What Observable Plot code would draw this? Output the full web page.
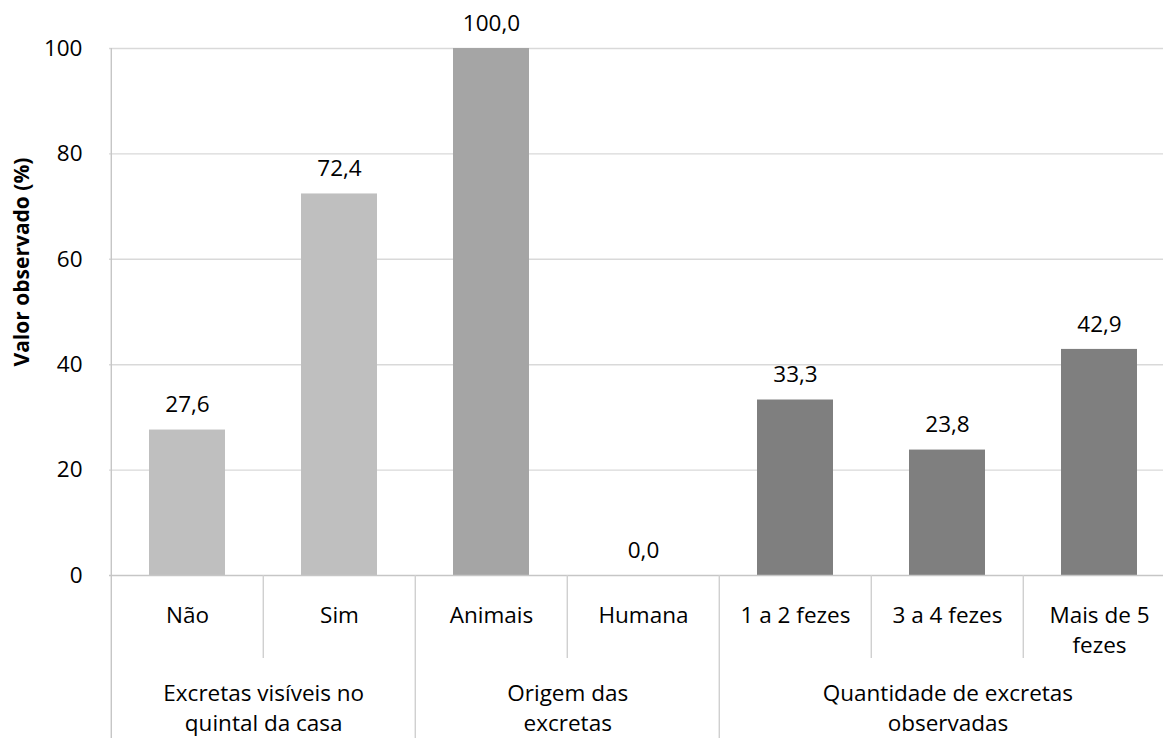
<!DOCTYPE html>
<html>
<head>
<meta charset="utf-8">
<script src="https://cdn.jsdelivr.net/npm/d3@7"></script>
<script src="https://cdn.jsdelivr.net/npm/@observablehq/plot@0.6"></script>
<style>
  html, body { margin: 0; padding: 0; background: #fff; overflow: hidden; }
  #chart svg { display: block; }
</style>
</head>
<body>
<div id="chart"></div>
<script>
// ---- data ----
const categories = ["Não", "Sim", "Animais", "Humana", "1 a 2 fezes", "3 a 4 fezes", "Mais de 5 fezes"];
const categoryLabels = ["Não", "Sim", "Animais", "Humana", "1 a 2 fezes", "3 a 4 fezes", "Mais de 5\nfezes"];
const values = [27.6, 72.4, 100.0, 0.0, 33.3, 23.8, 42.9];
const groupOf = [0, 0, 1, 1, 2, 2, 2];
const groupNames = ["Excretas visíveis no\nquintal da casa", "Origem das\nexcretas", "Quantidade de excretas\nobservadas"];
const yTicks = [0, 20, 40, 60, 80, 100];
const yTitle = "Valor observado (%)";

const data = categories.map((c, i) => ({
  cat: c, label: categoryLabels[i], value: values[i], group: groupNames[groupOf[i]]
}));

// ---- layout ----
const W = 1163, H = 738;
const mLeft = 109, mRight = -13, mTop = 48, mBottom = 163;
const padInner = 0.5, padOuter = 0.25;
const step = (W - mLeft - mRight) / (categories.length - padInner + 2 * padOuter);
const font = "'Open Sans', sans-serif";
const fs = 22.5;
const fmt = v => v.toFixed(1).replace(".", ",");

// separators
const shortSeps = categories.filter((c, i) => i > 0 && groupOf[i] === groupOf[i - 1]);
const longSeps = categories.filter((c, i) => i > 0 && groupOf[i] !== groupOf[i - 1]);

// group label marks
const groupMarks = groupNames.map((g, gi) => {
  const members = categories.filter((c, i) => groupOf[i] === gi);
  return Plot.text([g], {
    x: () => members[0],
    text: d => d,
    frameAnchor: "bottom",
    lineAnchor: "top",
    dy: 105,
    dx: (members.length - 1) * step / 2,
    lineHeight: 1.3,
    fontSize: fs,
    fill: "#000"
  });
});

const chart = Plot.plot({
  width: W,
  height: H,
  marginLeft: mLeft,
  marginRight: mRight,
  marginTop: mTop,
  marginBottom: mBottom,
  style: { fontFamily: font, fontSize: fs + "px", color: "#000", background: "#fff", overflow: "visible" },
  x: { domain: categories, paddingInner: padInner, paddingOuter: padOuter, axis: null },
  y: { domain: [0, 100], axis: null },
  color: { domain: groupNames, range: ["#bfbfbf", "#a5a5a5", "#7f7f7f"] },
  marks: [
    Plot.ruleY(yTicks.filter(t => t > 0), { stroke: "#d9d9d9", strokeWidth: 1.4 }),
    Plot.barY(data, { x: "cat", y: "value", fill: "group" }),
    Plot.ruleY([0], { stroke: "#c6c6c6", strokeWidth: 1.4 }),
    // left axis line extending to the bottom
    Plot.ruleX([categories[0]], { dx: -step / 2, stroke: "#c6c6c6", strokeWidth: 1.4, insetBottom: -mBottom }),
    // short separators between categories
    Plot.ruleX(shortSeps, { y1: 0, y2: 0, dx: -step / 2, stroke: "#d0d0d0", strokeWidth: 1.4, insetBottom: -83 }),
    // long separators between groups
    Plot.ruleX(longSeps, { y1: 0, y2: 0, dx: -step / 2, stroke: "#d0d0d0", strokeWidth: 1.4, insetBottom: -mBottom }),
    Plot.axisY({ ticks: yTicks, tickSize: 0, tickPadding: 27, fontSize: fs, label: null }),
    Plot.text(data, { x: "cat", y: "value", text: d => fmt(d.value), dy: -25, fontSize: fs, fill: "#000" }),
    Plot.text(data, { x: "cat", text: "label", frameAnchor: "bottom", lineAnchor: "top", dy: 27, lineHeight: 1.3, fontSize: fs, fill: "#000" }),
    ...groupMarks,
    Plot.text([yTitle], { frameAnchor: "left", textAnchor: "middle", rotate: -90, dx: -87, dy: -50, fontWeight: "bold", fontSize: 21, fill: "#000" })
  ]
});

document.getElementById("chart").appendChild(chart);
</script>
</body>
</html>
